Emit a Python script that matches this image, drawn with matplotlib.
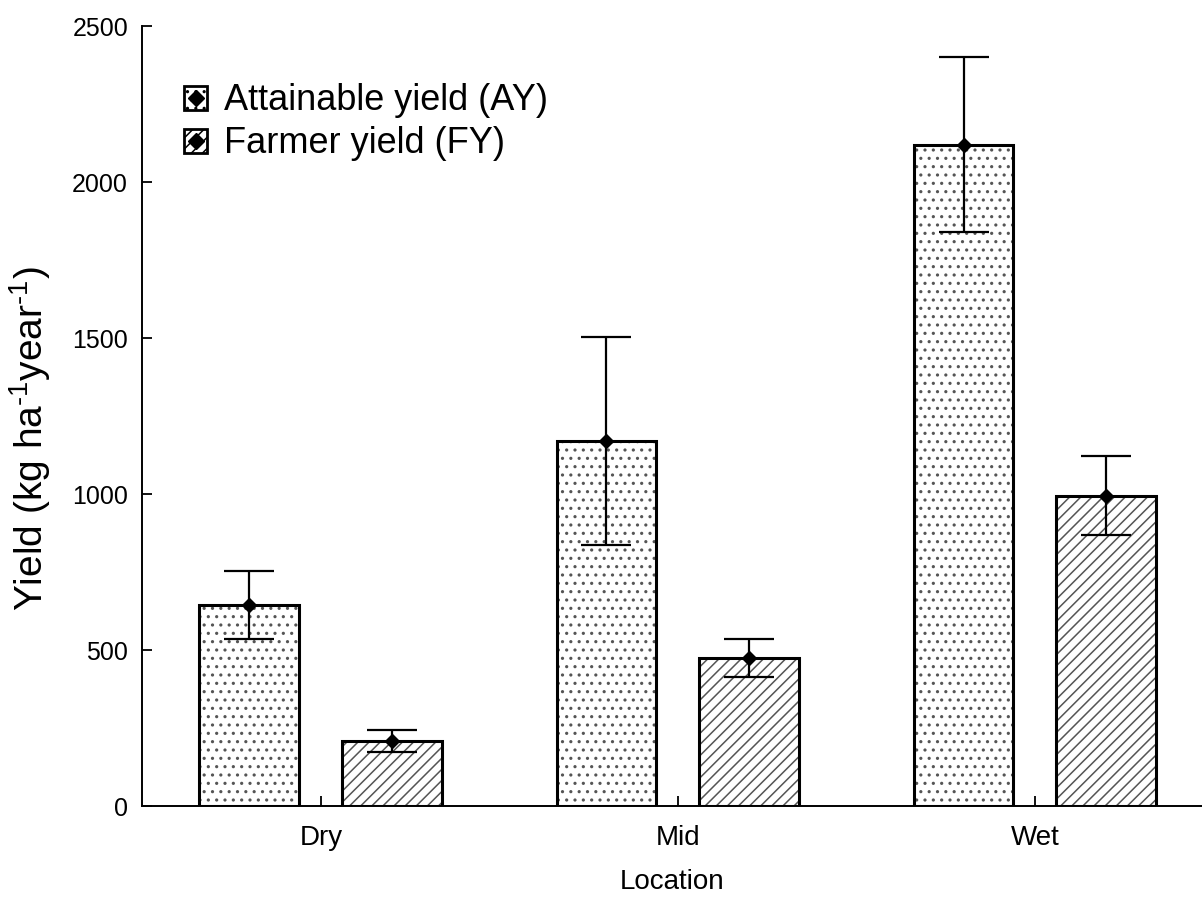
import matplotlib
matplotlib.use("Agg")
import matplotlib.pyplot as plt
import numpy as np
from matplotlib.patches import Patch
from matplotlib.lines import Line2D

plt.rcParams['font.family'] = ['Liberation Sans', 'DejaVu Sans']
plt.rcParams['mathtext.fontset'] = 'custom'
plt.rcParams['mathtext.rm'] = 'Liberation Sans'
plt.rcParams['mathtext.it'] = 'Liberation Sans'
plt.rcParams['hatch.linewidth'] = 1.1

locations = ["Dry", "Mid", "Wet"]
ay_mean = [644, 1170, 2120]
ay_err = [109, 333, 280]
fy_mean = [208, 475, 995]
fy_err = [35, 60, 128]
legend_labels = ["Attainable yield (AY)", "Farmer yield (FY)"]

HATCH_COL = '#555555'

fig = plt.figure(figsize=(12.02, 9.07), dpi=100)
ax = fig.add_axes([142/1202, 1-806/907, 1-142/1202, (806-26)/907])

x = np.arange(len(locations))
w = 0.28
off = 0.2

for xs, m, h in [(x - off, ay_mean, '..'), (x + off, fy_mean, '///')]:
    ax.bar(xs, m, w, facecolor='white', edgecolor=HATCH_COL, linewidth=0, hatch=h, zorder=2)
    ax.bar(xs, m, w, fill=False, edgecolor='black', linewidth=2.2, zorder=2.5)

for xs, m, e in [(x - off, ay_mean, ay_err), (x + off, fy_mean, fy_err)]:
    ax.errorbar(xs, m, yerr=e, fmt='D', color='black', markersize=7, capsize=18,
                elinewidth=1.6, capthick=1.6, zorder=3)

ax.set_xlim(-0.501, 2.468)
ax.set_ylim(0, 2500)
ax.set_yticks([0, 500, 1000, 1500, 2000, 2500])
ax.set_xticks(x)
ax.set_xticklabels(locations)
ax.tick_params(axis='both', direction='in', length=7, width=1.3)
ax.tick_params(axis='y', labelsize=18, pad=10)
ax.tick_params(axis='x', labelsize=20, pad=14)
ax.spines['top'].set_visible(False)
ax.spines['right'].set_visible(False)
ax.spines['left'].set_linewidth(1.4)
ax.spines['bottom'].set_linewidth(1.4)

ax.set_xlabel("Location", fontsize=20)
ax.xaxis.set_label_coords(0.5, -(882 - 806) / 780, transform=ax.transAxes)
ax.xaxis.label.set_va('center')
ax.set_ylabel("Yield (kg ha$^{\\mathregular{\u2010}\\mathregular{1}}$year$^{\\mathregular{\u2010}\\mathregular{1}}$)",
              fontsize=28)
ax.yaxis.set_label_coords((30 - 142) / 1060, (806 - 439) / 780, transform=ax.transAxes)
ax.yaxis.label.set_va('center')

h1 = (Patch(facecolor='white', edgecolor='black', hatch='..', linewidth=2),
      Line2D([], [], marker='D', color='black', linestyle='none', markersize=8))
h2 = (Patch(facecolor='white', edgecolor='black', hatch='///', linewidth=2),
      Line2D([], [], marker='D', color='black', linestyle='none', markersize=8))
ax.legend([h1, h2], legend_labels, loc='upper left', bbox_to_anchor=(0.026, 0.945),
          frameon=False, fontsize=26, handlelength=0.65, handleheight=0.65,
          handletextpad=0.45, labelspacing=0.22, borderaxespad=0)

fig.savefig("out.png", dpi=100)
